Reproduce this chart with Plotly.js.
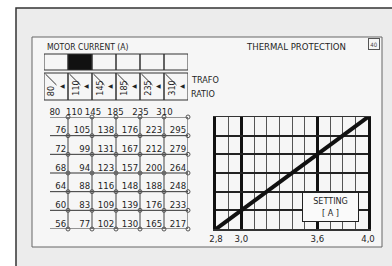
<!DOCTYPE html>
<html><head><meta charset="utf-8">
<script src="https://cdn.plot.ly/plotly-3.0.1.min.js"></script>
<style>html,body{margin:0;padding:0;background:#fff;} #chart{width:392px;height:266px;}</style>
</head><body><div id="chart"></div>
<script>
// ---- data ----
const trafoRatios = [80, 110, 145, 185, 235, 310];
const settings = [4.0, 3.8, 3.6, 3.4, 3.2, 3.0, 2.8];
const currentRows = [
  [80, 110, 145, 185, 235, 310],
  [76, 105, 138, 176, 223, 295],
  [72, 99, 131, 167, 212, 279],
  [68, 94, 123, 157, 200, 264],
  [64, 88, 116, 148, 188, 248],
  [60, 83, 109, 139, 176, 233],
  [56, 77, 102, 130, 165, 217]
];
const selectedRatio = 110;
const settingTicks = [2.8, 3.0, 3.6, 4.0];
const settingTickLabels = ["2,8", "3,0", "3,6", "4,0"];
const settingLine = [2.8, 4.0];

// ---- styling helpers ----
const FONT = "'Liberation Sans Narrow', 'DejaVu Sans Condensed', 'Liberation Sans', sans-serif";
const INK = '#1e1e1e';
const W = 392, H = 266;
const px = v => v / W;
const py = v => 1 - v / H;
const nCols = trafoRatios.length;
const sMin = Math.min(...settings), sMax = Math.max(...settings);
const headerShift = [0.38, 0.3, 0.08, 0.02, 0.06, 0.06];

const traces = [];

// table horizontal lines
const hx = [], hy = [];
settings.forEach(s => { hx.push(0.25, nCols, null); hy.push(s, s, null); });
traces.push({type: 'scatter', mode: 'lines', x: hx, y: hy, xaxis: 'x2', yaxis: 'y2',
  line: {color: '#333', width: 1}, hoverinfo: 'skip', cliponaxis: false});

// table vertical lines with joints
const vx = [], vy = [];
trafoRatios.forEach((r, i) => {
  settings.forEach(s => { vx.push(i + 1); vy.push(s); });
  vx.push(null); vy.push(null);
});
traces.push({type: 'scatter', mode: 'lines+markers', x: vx, y: vy, xaxis: 'x2', yaxis: 'y2',
  line: {color: '#444', width: 1}, marker: {symbol: 'circle-open', size: 4, color: '#555', line: {width: 1}},
  hoverinfo: 'skip', cliponaxis: false});

// header row (ratios at top setting)
traces.push({type: 'scatter', mode: 'text', xaxis: 'x2', yaxis: 'y2',
  x: currentRows[0].map((v, i) => i + 0.3 + headerShift[i]),
  y: currentRows[0].map(() => settings[0]),
  text: currentRows[0].map(String), textposition: 'top left',
  textfont: {family: FONT, size: 9.5, color: INK}, hoverinfo: 'skip', cliponaxis: false});

// table body
const bx = [], by = [], bt = [];
currentRows.forEach((row, ri) => {
  if (ri === 0) return;
  row.forEach((v, ci) => { bx.push(ci + 0.92); by.push(settings[ri]); bt.push(String(v)); });
});
traces.push({type: 'scatter', mode: 'text', xaxis: 'x2', yaxis: 'y2', x: bx, y: by, text: bt,
  textposition: 'top left', textfont: {family: FONT, size: 9.5, color: INK}, hoverinfo: 'skip', cliponaxis: false});

// setting line
traces.push({type: 'scatter', mode: 'lines', x: settingLine, y: settingLine, xaxis: 'x', yaxis: 'y',
  line: {color: '#111', width: 4}, hoverinfo: 'skip'});

// ---- shapes ----
const shapes = [
  {type: 'rect', xref: 'paper', yref: 'paper', x0: px(16), x1: 1.05, y0: -0.05, y1: py(8),
    fillcolor: '#ececec', line: {color: '#333', width: 1.5}, layer: 'below'},
  {type: 'rect', xref: 'paper', yref: 'paper', x0: px(32), x1: px(382), y0: py(247), y1: py(37),
    fillcolor: '#f6f6f6', line: {color: '#666', width: 1}, layer: 'below'}
];
trafoRatios.forEach((r, i) => {
  shapes.push({type: 'rect', xref: 'x2', yref: 'paper', x0: i, x1: i + 1, y0: py(70), y1: py(54),
    fillcolor: r === selectedRatio ? '#111' : 'rgba(0,0,0,0)', line: {color: '#333', width: 1}});
  shapes.push({type: 'rect', xref: 'x2', yref: 'paper', x0: i, x1: i + 1, y0: py(100), y1: py(73),
    fillcolor: 'rgba(0,0,0,0)', line: {color: '#333', width: 1}});
  shapes.push({type: 'line', xref: 'x2', yref: 'paper', x0: i + 0.06, x1: i + 0.52, y0: py(74), y1: py(85),
    line: {color: '#333', width: 1}});
});

// ---- annotations ----
const ann = [
  {text: 'MOTOR CURRENT (A)', x: px(45), y: py(47), xanchor: 'left', font: {family: FONT, size: 8.5, color: INK}},
  {text: 'THERMAL PROTECTION', x: px(296), y: py(47), xanchor: 'center', font: {family: FONT, size: 9.5, color: INK}},
  {text: 'TRAFO', x: px(189), y: py(80), xanchor: 'left'},
  {text: 'RATIO', x: px(189), y: py(94), xanchor: 'left'},
  {text: '40', x: px(373.5), y: py(44), xanchor: 'center', font: {family: FONT, size: 6, color: '#444'},
    bordercolor: '#555', borderwidth: 1, width: 10, height: 10, borderpad: 0},
].map(a => Object.assign({xref: 'paper', yref: 'paper', showarrow: false, yanchor: 'middle',
  font: {family: FONT, size: 9, color: INK}}, a));

trafoRatios.forEach((r, i) => {
  ann.push({text: String(r), xref: 'x2', yref: 'paper', x: i + 0.3, y: py(98), yanchor: 'bottom',
    xanchor: 'center', textangle: -90, showarrow: false, font: {family: FONT, size: 9, color: INK}});
  ann.push({text: '◀', xref: 'x2', yref: 'paper', x: i + 0.75, y: py(80), showarrow: false,
    font: {family: 'DejaVu Sans', size: 6, color: '#222'}});
});
ann.push({text: 'SETTING<br>[ A ]', xref: 'x', yref: 'y', x: 3.70, y: 3.04, showarrow: false,
  bgcolor: '#fafafa', bordercolor: '#222', borderwidth: 1, width: 53, height: 26,
  font: {family: FONT, size: 9, color: INK}});

const layout = {
  width: W, height: H, autosize: false,
  margin: {l: 0, r: 0, t: 0, b: 0},
  paper_bgcolor: '#ffffff', plot_bgcolor: 'rgba(0,0,0,0)',
  showlegend: false,
  xaxis: {domain: [px(216), px(368)], range: [sMin, sMax], tickmode: 'array',
    tickvals: settingTicks, ticktext: settingTickLabels, showgrid: true, gridcolor: '#111', gridwidth: 3,
    minor: {tickmode: 'linear', tick0: sMin, dtick: 0.1, showgrid: true, gridcolor: '#555', gridwidth: 1},
    showline: true, mirror: true, linecolor: '#333', linewidth: 1.5, ticks: '', zeroline: false,
    tickfont: {family: FONT, size: 9.5, color: INK}, anchor: 'y', fixedrange: true},
  yaxis: {domain: [py(229), py(117)], range: [sMin, sMax], tickmode: 'array', tickvals: settings,
    showgrid: true, gridcolor: '#222', gridwidth: 2, showline: true, mirror: true, linecolor: '#111',
    linewidth: 3, showticklabels: false, ticks: '', zeroline: false, anchor: 'x', fixedrange: true},
  xaxis2: {domain: [px(44), px(188)], range: [0, nCols], visible: false, anchor: 'y2', fixedrange: true},
  yaxis2: {domain: [py(229), py(117)], range: [sMin, sMax], visible: false, anchor: 'x2', fixedrange: true},
  shapes: shapes,
  annotations: ann
};

Plotly.newPlot('chart', traces, layout, {displayModeBar: false, staticPlot: true});
</script>
</body></html>
